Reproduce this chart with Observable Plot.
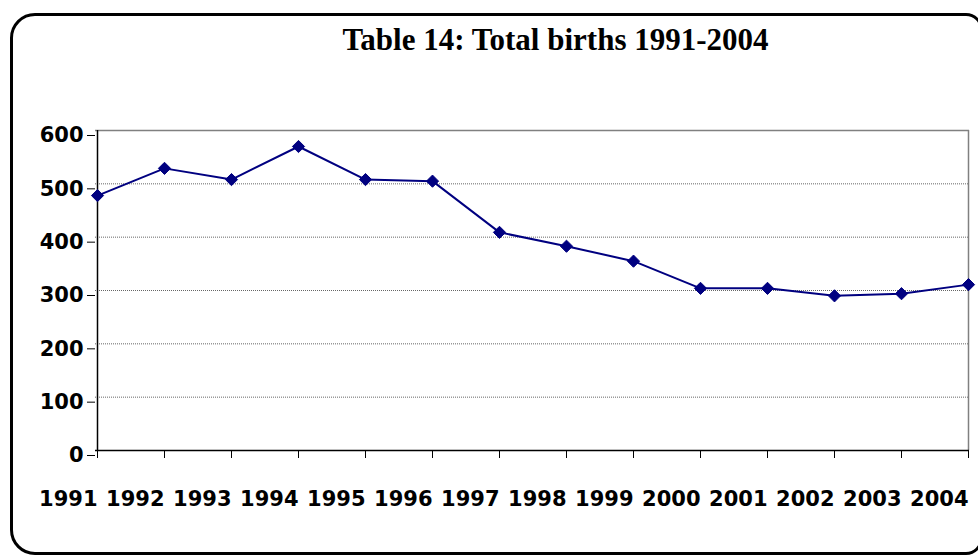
<!DOCTYPE html>
<html>
<head>
<meta charset="utf-8">
<script src="https://cdn.jsdelivr.net/npm/d3@7"></script>
<script src="https://cdn.jsdelivr.net/npm/@observablehq/plot@0.6"></script>
<style>
  html, body { margin: 0; padding: 0; background: #fff; overflow: hidden; }
  #wrap { position: relative; width: 978px; height: 555px; overflow: hidden; }
  #border { position: absolute; left: 10px; top: 13px; width: 967px; height: 536px;
            border: 3px solid #000; border-radius: 25px 17px 17px 25px; box-sizing: content-box; }
  #chart { position: absolute; left: 0; top: 0; }
</style>
</head>
<body>
<div id="wrap">
  <div id="border"></div>
  <div id="chart"></div>
</div>
<script>
const title = "Table 14: Total births 1991-2004";
const years = ["1991","1992","1993","1994","1995","1996","1997","1998","1999","2000","2001","2002","2003","2004"];
const births = [478, 529, 508, 570, 508, 505, 409, 383, 355, 304, 304, 290, 294, 311];
const yTicks = [0, 100, 200, 300, 400, 500, 600];
const gridTicks = [100, 200, 300, 400, 500];

const data = years.map((y, i) => ({year: y, births: births[i]}));
const navy = "#000080";
const lblFont = {fontSize: 21, fontWeight: "bold", fontFamily: "DejaVu Sans"};

const chart = Plot.plot({
  width: 978,
  height: 555,
  marginLeft: 95,
  marginRight: 9,
  marginTop: 130,
  marginBottom: 105,
  style: {background: "transparent", color: "#000", overflow: "visible"},
  x: {type: "point", domain: years, padding: 0},
  y: {domain: [0, 600]},
  marks: [
    Plot.ruleY(gridTicks, {stroke: "#666", strokeWidth: 1, strokeDasharray: "1,1"}),
    Plot.ruleY([600], {stroke: "#808080", strokeWidth: 1.5}),
    Plot.ruleX([years[years.length - 1]], {stroke: "#808080", strokeWidth: 1.5}),
    Plot.ruleY([0], {stroke: "#000", strokeWidth: 1.5}),
    Plot.ruleX([years[0]], {stroke: "#000", strokeWidth: 1.5}),
    Plot.axisY({ticks: yTicks, tickSize: 8, tickPadding: 4, dy: 5, label: null, ...lblFont, tickFormat: d => String(d)}),
    Plot.axisX({tickSize: 8, tickPadding: 33, textAnchor: "end", label: null, ...lblFont}),
    Plot.line(data, {x: "year", y: "births", stroke: navy, strokeWidth: 2}),
    Plot.dot(data, {x: "year", y: "births", symbol: "diamond2", r: 5.5, fill: navy, stroke: navy, strokeWidth: 1}),
    Plot.text([title], {frameAnchor: "top", dx: 23, dy: -103, lineAnchor: "top", text: d => d,
      fontSize: 31, fontWeight: "bold", fontFamily: "Liberation Serif", fill: "#000"})
  ]
});
document.getElementById("chart").appendChild(chart);
</script>
</body>
</html>
